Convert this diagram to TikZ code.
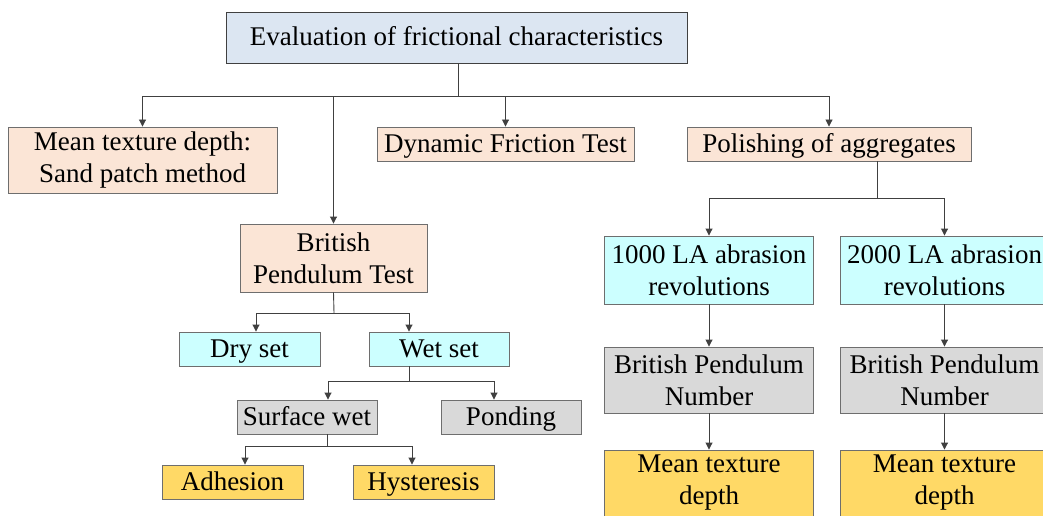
\documentclass[tikz,border=0pt]{standalone}
\usepackage{fontspec}
\setmainfont{Liberation Serif}
\usetikzlibrary{arrows.meta}

\definecolor{topblue}{HTML}{DCE6F2}
\definecolor{peach}{HTML}{FBE5D6}
\definecolor{lightcyan}{HTML}{CCFFFF}
\definecolor{lightgrey}{HTML}{D9D9D9}
\definecolor{gold}{HTML}{FFD966}
\definecolor{boxline}{HTML}{6E6E6E}
\definecolor{wire}{HTML}{404040}

\tikzset{
  box/.style={draw=boxline, line width=0.9pt, inner sep=0pt, align=center,
    font=\fontsize{27}{32}\selectfont, text=black},
  oneline/.style={text height=20pt, text depth=4pt},
  rootbox/.style={box, oneline, fill=topblue, draw=wire},
  peachbox/.style={box, fill=peach},
  cyanbox/.style={box, fill=lightcyan},
  greybox/.style={box, fill=lightgrey},
  goldbox/.style={box, fill=gold},
  link/.style={draw=wire, line width=0.9pt},
  arr/.style={link, -{Triangle[length=7pt,width=7pt]}}
}

\begin{document}
\begin{tikzpicture}[x=1pt,y=-1pt]
\useasboundingbox (0,0) rectangle (1043,516);
\fill[white] (0,0) rectangle (1043,516);
\clip (0,0) rectangle (1043,516);

% boxes
\node[rootbox, minimum width=461pt, minimum height=51pt] (root) at (456.5,37.5)
  {Evaluation of frictional characteristics};
\node[peachbox, minimum width=269pt, minimum height=66pt] (mtd) at (142.5,160)
  {Mean texture depth:\\Sand patch method};
\node[peachbox, oneline, minimum width=257pt, minimum height=34pt] (dyn) at (505.5,144)
  {Dynamic Friction Test};
\node[peachbox, oneline, minimum width=284pt, minimum height=34pt] (pol) at (829,144)
  {Polishing of aggregates};
\node[peachbox, minimum width=187pt, minimum height=68pt] (bpt) at (333.5,258)
  {British\\Pendulum Test};
\node[cyanbox, oneline, minimum width=141pt, minimum height=34pt] (dry) at (249.5,349) {Dry set};
\node[cyanbox, oneline, minimum width=140pt, minimum height=34pt] (wet) at (439,349) {Wet set};
\node[greybox, oneline, minimum width=140pt, minimum height=34pt] (sw) at (307,417) {Surface wet};
\node[greybox, oneline, minimum width=140pt, minimum height=34pt] (pond) at (511,417) {Ponding};
\node[goldbox, oneline, minimum width=141pt, minimum height=34pt] (adh) at (232.5,482) {Adhesion};
\node[goldbox, oneline, minimum width=141pt, minimum height=34pt] (hys) at (423.5,482) {Hysteresis};
\node[cyanbox, minimum width=209pt, minimum height=68pt] (la1) at (709,270)
  {1000 LA abrasion\\revolutions};
\node[cyanbox, minimum width=209pt, minimum height=68pt] (la2) at (944.5,270)
  {2000 LA abrasion\\revolutions};
\node[greybox, minimum width=209pt, minimum height=66pt] (bpn1) at (709,380)
  {British Pendulum\\Number};
\node[greybox, minimum width=209pt, minimum height=66pt] (bpn2) at (944.5,380)
  {British Pendulum\\Number};
\node[goldbox, minimum width=209pt, minimum height=66pt] (mt1) at (709,483)
  {Mean texture\\depth};
\node[goldbox, minimum width=209pt, minimum height=66pt] (mt2) at (944.5,483)
  {Mean texture\\depth};

% junction points of the branching connectors
\coordinate (j0) at (458,96);
\coordinate (j1) at (334,313);
\coordinate (j2) at (409,381);
\coordinate (j3) at (327,446);
\coordinate (j4) at (877,198);

% root fan-out
\draw[link] ([xshift=1.5pt]root.south) -- (j0);
\draw[arr] (j0) -| (mtd.north);
\draw[arr] (j0) -| (bpt.north);
\draw[arr] (j0) -| (dyn.north);
\draw[arr] (j0) -| (pol.north);

% British pendulum test branch
\draw[link] (bpt.south) -- (j1);
\draw[arr] (j1) -| ([xshift=6.5pt]dry.north);
\draw[arr] (j1) -| ([xshift=-30pt]wet.north);
\draw[link] ([xshift=-30pt]wet.south) -- (j2);
\draw[arr] (j2) -| ([xshift=21pt]sw.north);
\draw[arr] (j2) -| ([xshift=-17pt]pond.north);
\draw[link] ([xshift=20pt]sw.south) -- (j3);
\draw[arr] (j3) -| ([xshift=12.5pt]adh.north);
\draw[arr] (j3) -| ([xshift=-11.5pt]hys.north);

% polishing branch
\draw[link] ([xshift=48pt]pol.south) -- (j4);
\draw[arr] (j4) -| (la1.north);
\draw[arr] (j4) -| (la2.north);
\draw[arr] (la1.south) -- (bpn1.north);
\draw[arr] (la2.south) -- (bpn2.north);
\draw[arr] (bpn1.south) -- (mt1.north);
\draw[arr] (bpn2.south) -- (mt2.north);
\end{tikzpicture}
\end{document}
